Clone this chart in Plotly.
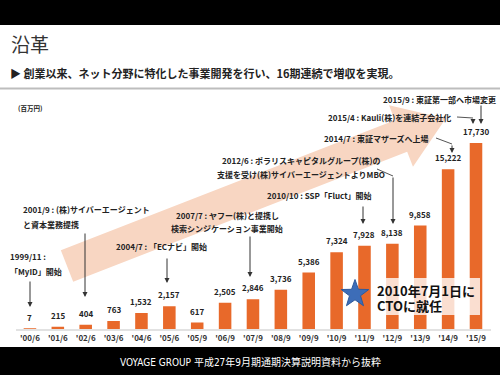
import math
import plotly.graph_objects as go

# ---- data ----
categories = ["'00/6", "'01/6", "'02/6", "'03/6", "'04/6", "'05/6", "'05/9", "'06/9",
              "'07/9", "'08/9", "'09/9", "'10/9", "'11/9", "'12/9", "'13/9", "'14/9", "'15/9"]
sales = [7, 215, 404, 763, 1532, 2157, 617, 2505, 2846, 3736, 5386, 7324, 7928, 8138, 9858, 15222, 17730]
value_labels = ["7", "215", "404", "763", "1,532", "2,157", "617", "2,505", "2,846", "3,736",
                "5,386", "7,324", "7,928", "8,138", "9,858", "15,222", "17,730"]

title_text = "沿革"
subtitle_text = "▶ 創業以来、ネット分野に特化した事業開発を行い、16期連続で増収を実現。"
unit_text = "(百万円)"
footer_text = "VOYAGE GROUP 平成27年9月期通期決算説明資料から抜粋"
cto_lines = ["2010年7月1日に", "CTOに就任"]

W, H = 500, 375
JP = "Noto Sans CJK JP"
BAR = "#E8692A"
PEACH = "#F8D6C2"
DARK = "#222222"


def X(px):
    return px / W


def Y(py):
    return 1 - py / H


fig = go.Figure()
fig.add_trace(go.Bar(x=categories, y=sales, marker=dict(color=BAR, line=dict(width=0)),
                     hoverinfo="skip"))

annotations = []
shapes = []

# value labels above bars
for c, v, t in zip(categories, sales, value_labels):
    annotations.append(dict(x=c, y=v, xref="x", yref="y", text=t, showarrow=False,
                            yanchor="bottom", yshift=4,
                            font=dict(family=JP, size=8, color=DARK, weight="bold")))

# black bands
shapes.append(dict(type="rect", xref="paper", yref="paper", x0=0, x1=1, y0=Y(25), y1=1,
                   fillcolor="black", line=dict(width=0), layer="above"))
shapes.append(dict(type="rect", xref="paper", yref="paper", x0=0, x1=1, y0=0, y1=Y(347),
                   fillcolor="black", line=dict(width=0), layer="above"))
# gray separator
shapes.append(dict(type="line", xref="paper", yref="paper", x0=0, x1=1, y0=Y(88.5), y1=Y(88.5),
                   line=dict(color="#bdbdbd", width=2)))

# big background arrow
T = (67, 266)
B = (401, 136)
dx, dy = B[0] - T[0], B[1] - T[1]
L = math.hypot(dx, dy)
d = (dx / L, dy / L)
n = (-d[1], d[0])
h, hw, hl = 17, 33, 48
pts = [
    (T[0] - h * n[0], T[1] - h * n[1]),
    (B[0] - h * n[0], B[1] - h * n[1]),
    (B[0] - hw * n[0], B[1] - hw * n[1]),
    (B[0] + hl * d[0], B[1] + hl * d[1]),
    (B[0] + hw * n[0], B[1] + hw * n[1]),
    (B[0] + h * n[0], B[1] + h * n[1]),
    (T[0] + h * n[0], T[1] + h * n[1]),
]
path = "M " + " L ".join(f"{X(p[0]):.5f},{Y(p[1]):.5f}" for p in pts) + " Z"
shapes.append(dict(type="path", xref="paper", yref="paper", path=path,
                   fillcolor=PEACH, line=dict(width=0), layer="below"))

# titles
annotations.append(dict(x=X(9), y=Y(43), xref="paper", yref="paper", text=title_text,
                        showarrow=False, xanchor="left", yanchor="middle",
                        font=dict(family=JP, size=19, color="#333333")))
annotations.append(dict(x=X(8), y=Y(73), xref="paper", yref="paper", text=subtitle_text,
                        showarrow=False, xanchor="left", yanchor="middle",
                        font=dict(family=JP, size=11, color=DARK, weight="bold")))
annotations.append(dict(x=X(16), y=Y(108), xref="paper", yref="paper", text=unit_text,
                        showarrow=False, xanchor="left", yanchor="middle",
                        font=dict(family=JP, size=6.5, color=DARK, weight="bold")))
annotations.append(dict(x=0.5, y=Y(362), xref="paper", yref="paper", text=footer_text,
                        showarrow=False, xanchor="center", yanchor="middle",
                        font=dict(family="DejaVu Sans Condensed, " + JP, size=10, color="white")))

# event callouts: (lines, x_anchor, y_lines, align)
events = [
    (["1999/11 :", "「MyID」開始"], 8, [256, 271], "left"),
    (["2001/9 : (株)サイバーエージェント", "と資本業務提携"], 21, [209, 224], "left"),
    (["2004/7 : 「ECナビ」開始"], 114, [247], "left"),
    (["2007/7 : ヤフー(株)と提携し", "検索シンジケーション事業開始"], 227, [215, 228], "center"),
    (["2012/6 : ポラリスキャピタルグループ(株)の", "支援を受け(株)サイバーエージェントよりMBO"], 301, [160, 174], "center"),
    (["2010/10 : SSP「Fluct」開始"], 374, [196], "right"),
    (["2014/7 : 東証マザーズへ上場"], 431, [138], "right"),
    (["2015/4 : Kauli(株)を連結子会社化"], 453, [117], "right"),
    (["2015/9 : 東証第一部へ市場変更"], 498, [100], "right"),
]
for lines, xp, ys, al in events:
    for line, yp in zip(lines, ys):
        annotations.append(dict(x=X(xp), y=Y(yp), xref="paper", yref="paper", text=line,
                                showarrow=False, xanchor=al, yanchor="middle",
                                font=dict(family=JP, size=8, color=DARK, weight="bold")))

# arrows: (head_x, head_y, tail_x, tail_y)
arrows = [
    (30, 307, 30, 280),
    (85, 297, 85, 232),
    (167, 283, 167, 257),
    (250, 277, 250, 235),
    (393, 224, 393, 176),
    (363, 224, 363, 205),
    (452, 153, 452, 144),
    (473, 124, 473, 118),
    (481, 124, 481, 104),
]
for hx, hy, tx, ty in arrows:
    annotations.append(dict(x=X(hx), y=Y(hy), xref="paper", yref="paper", text="",
                            showarrow=True, ax=tx - hx, ay=ty - hy, axref="pixel", ayref="pixel",
                            arrowhead=2, arrowsize=1, arrowwidth=1, arrowcolor="#333333",
                            standoff=0, startstandoff=0))
# elbow segments
elbows = [
    (377, 169, 393, 176),
    (436, 138, 452, 144),
    (457, 117, 473, 118),
]
for x0, y0, x1, y1 in elbows:
    shapes.append(dict(type="line", xref="paper", yref="paper", x0=X(x0), y0=Y(y0),
                       x1=X(x1), y1=Y(y1), line=dict(color="#555555", width=1)))

# CTO box
shapes.append(dict(type="rect", xref="paper", yref="paper", x0=X(372), x1=X(480),
                   y0=Y(315), y1=Y(278), fillcolor="rgba(255,255,255,0.78)",
                   line=dict(width=0), layer="above"))
for line, yp in zip(cto_lines, [290.5, 305]):
    annotations.append(dict(x=X(376), y=Y(yp), xref="paper", yref="paper", text=line,
                            showarrow=False, xanchor="left", yanchor="middle", borderpad=0,
                            font=dict(family=JP, size=13, color="#111111", weight="bold")))

# star
cx, cy, ro, ri = 355, 294, 14.5, 5.8
spts = []
for k in range(10):
    r = ro if k % 2 == 0 else ri
    a = -math.pi / 2 + k * math.pi / 5
    spts.append((cx + r * math.cos(a), cy + r * math.sin(a)))
spath = "M " + " L ".join(f"{X(p[0]):.5f},{Y(p[1]):.5f}" for p in spts) + " Z"
shapes.append(dict(type="path", xref="paper", yref="paper", path=spath,
                   fillcolor="#3D6DB8", line=dict(color="#2F5A9C", width=1), layer="above"))

fig.update_layout(
    width=W, height=H,
    margin=dict(l=0, r=0, t=0, b=0),
    paper_bgcolor="white", plot_bgcolor="rgba(0,0,0,0)",
    showlegend=False, bargap=0.55,
    xaxis=dict(type="category", domain=[X(16), X(491)], showline=True, linecolor="#e2e2e2",
               linewidth=2, ticks="", showgrid=False, zeroline=False, fixedrange=True,
               tickfont=dict(family=JP, size=8, color="#333333", weight="bold")),
    yaxis=dict(range=[0, 20000], domain=[Y(329), Y(119.2)], visible=False, showgrid=False,
               zeroline=False, fixedrange=True),
    annotations=annotations, shapes=shapes,
)

fig.write_html("out.html", config={"displayModeBar": False},
               post_script="document.body.style.margin='0';document.body.style.overflow='hidden';")
